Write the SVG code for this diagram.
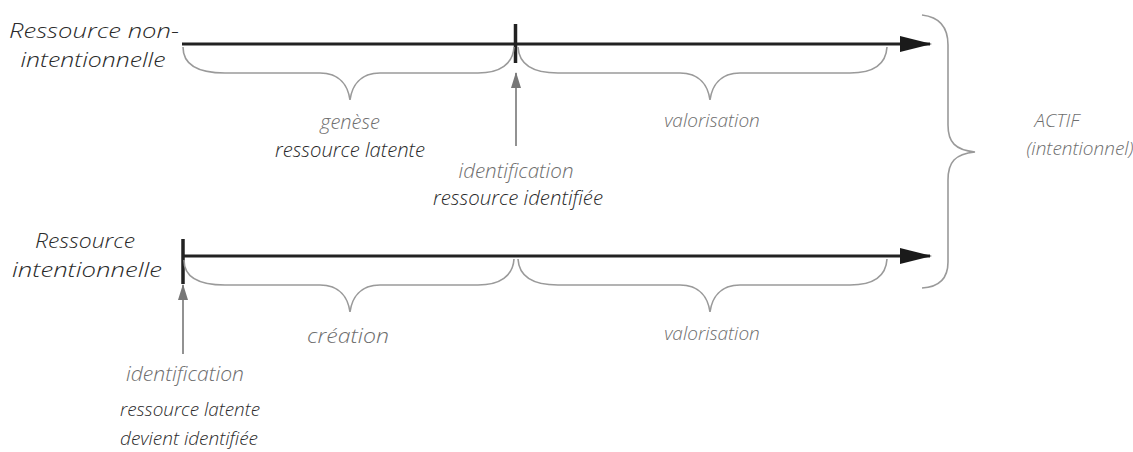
<svg xmlns="http://www.w3.org/2000/svg" width="1133" height="452" viewBox="0 0 1133 452">
<defs>
<style>
text{font-family:"Open Sans","Liberation Sans",sans-serif;font-style:italic;font-weight:300;font-size:19px;text-anchor:middle}
.dk{fill:#2a2a2a}
.gr{fill:#6e6e6e}
.big{font-size:21px}
.mid{font-size:20px}
.main{stroke:#222;stroke-width:3;fill:none}
.tick{stroke:#222;stroke-width:3.5}
.brace{stroke:#9a9a9a;stroke-width:1.6;fill:none}
.up{stroke:#777;stroke-width:1.6}
</style>
<marker id="ah" viewBox="0 0 32 16" refX="30" refY="8" markerWidth="32" markerHeight="16" markerUnits="userSpaceOnUse" orient="auto">
<path d="M0,0 L32,8 L0,16 Z" fill="#1a1a1a"/>
</marker>
<marker id="uh" viewBox="0 0 16 10" refX="15" refY="5" markerWidth="16" markerHeight="10" markerUnits="userSpaceOnUse" orient="auto">
<path d="M0,0 L16,5 L0,10 Z" fill="#777"/>
</marker>
</defs>
<g id="connectors">
<line class="main" x1="182" y1="44" x2="930" y2="44" marker-end="url(#ah)"/>
<line class="tick" x1="515.5" y1="24" x2="515.5" y2="63"/>
<line class="main" x1="183" y1="256" x2="930" y2="256" marker-end="url(#ah)"/>
<line class="tick" x1="183" y1="239" x2="183" y2="284"/>
<line class="up" x1="516" y1="146" x2="516" y2="73" marker-end="url(#uh)"/>
<line class="up" x1="183" y1="354" x2="183" y2="285" marker-end="url(#uh)"/>
</g>
<g id="braces">
<path class="brace" d="M183,47 C183,64 196,73 225,73 L320,73 C340,73 348,86 350,100 C352,86 360,73 380,73 L478,73 C500,73 513,64 514,47"/>
<path class="brace" d="M518,47 C519,64 532,73 558,73 L680,73 C700,73 708,86 710,100 C712,86 720,73 740,73 L850,73 C875,73 886,64 887,47"/>
<path class="brace" d="M184,260 C184,276 197,285 225,285 L320,285 C340,285 348,298 350,312 C352,298 360,285 380,285 L478,285 C500,285 513,276 514,259"/>
<path class="brace" d="M518,259 C519,276 532,285 558,285 L680,285 C700,285 708,298 710,312 C712,298 720,285 740,285 L850,285 C875,285 886,276 887,259"/>
<path class="brace" d="M922,15 C940,17 948,28 948,45 L948,125 C948,142 955,150 975,152 C955,154 948,162 948,180 L948,262 C948,278 940,287 922,288"/>
</g>
<g id="node-top-left">
<text class="dk big" x="94" y="38" textLength="170" lengthAdjust="spacingAndGlyphs">Ressource non-</text>
<text class="dk big" x="93" y="67" textLength="145" lengthAdjust="spacingAndGlyphs">intentionnelle</text>
</g>
<g id="node-genese">
<text class="gr mid" x="350" y="129">genèse</text>
<text class="dk mid" x="350" y="157" textLength="150" lengthAdjust="spacingAndGlyphs">ressource latente</text>
</g>
<g id="node-identification-top">
<text class="gr mid" x="516" y="178" textLength="115" lengthAdjust="spacingAndGlyphs">identification</text>
<text class="dk mid" x="518" y="205" textLength="170" lengthAdjust="spacingAndGlyphs">ressource identifiée</text>
</g>
<g id="node-valorisation-top">
<text class="gr" x="712" y="127">valorisation</text>
</g>
<g id="node-actif">
<text class="gr" x="1057" y="127">ACTIF</text>
<text class="gr" x="1080" y="155">(intentionnel)</text>
</g>
<g id="node-bottom-left">
<text class="dk big" x="85" y="248" textLength="100" lengthAdjust="spacingAndGlyphs">Ressource</text>
<text class="dk big" x="87" y="277" textLength="150" lengthAdjust="spacingAndGlyphs">intentionnelle</text>
</g>
<g id="node-creation">
<text class="gr mid" x="348" y="343" textLength="82" lengthAdjust="spacingAndGlyphs">création</text>
</g>
<g id="node-valorisation-bottom">
<text class="gr" x="712" y="340">valorisation</text>
</g>
<g id="node-identification-bottom">
<text class="gr mid" x="185" y="381" textLength="118" lengthAdjust="spacingAndGlyphs">identification</text>
<text class="dk" x="190" y="416" textLength="140" lengthAdjust="spacingAndGlyphs">ressource latente</text>
<text class="dk" x="189" y="445" textLength="138" lengthAdjust="spacingAndGlyphs">devient identifiée</text>
</g>
</svg>
